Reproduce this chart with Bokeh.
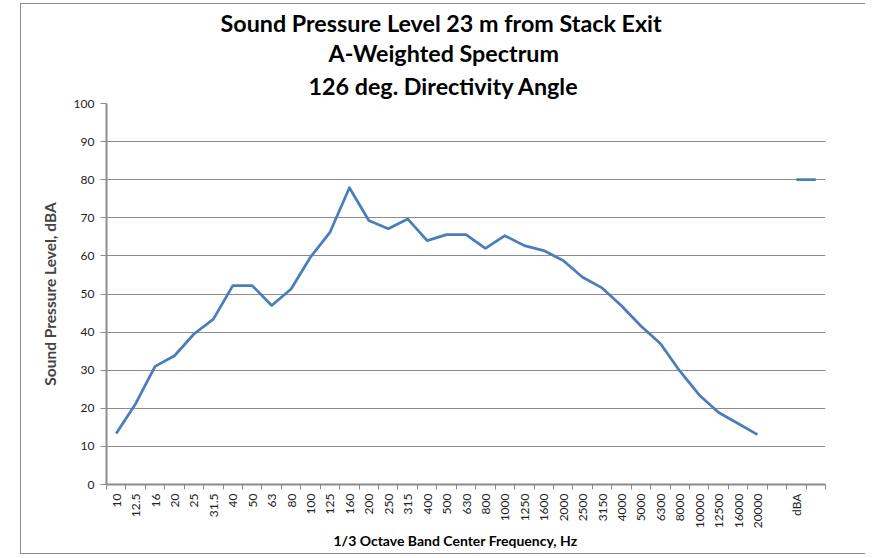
from bokeh.plotting import figure
from bokeh.models import FixedTicker, Title, ColumnDataSource, Range1d
from bokeh.embed import file_html
from bokeh.resources import INLINE
import math

categories = ["10", "12.5", "16", "20", "25", "31.5", "40", "50", "63", "80",
              "100", "125", "160", "200", "250", "315", "400", "500", "630", "800",
              "1000", "1250", "1600", "2000", "2500", "3150", "4000", "5000", "6300", "8000",
              "10000", "12500", "16000", "20000", "", "dBA", " "]
spl = [13.4, 21.2, 31.0, 33.8, 39.5, 43.4, 52.2, 52.2, 47.0, 51.3,
       59.7, 66.2, 77.9, 69.3, 67.1, 69.7, 64.0, 65.6, 65.6, 62.0,
       65.3, 62.7, 61.4, 58.8, 54.4, 51.6, 46.9, 41.6, 37.0, 29.8,
       23.5, 18.9, 16.0, 13.1]
dba_cats = ["dBA", " "]
dba_vals = [80.0, 80.0]
title_lines = ["Sound Pressure Level 23 m from Stack Exit", "A-Weighted Spectrum",
               "126 deg. Directivity Angle"]
x_title = "1/3 Octave Band Center Frequency, Hz"
y_title = "Sound Pressure Level, dBA"

FONT = "Lato"
GRID = "#8c8c8c"

ncat = len(categories)
centers = [i + 0.5 for i in range(ncat)]
pos = {c: i + 0.5 for i, c in enumerate(categories)}

p = figure(frame_width=719, frame_height=381, output_backend="svg", toolbar_location=None,
           x_range=Range1d(0, ncat), y_range=Range1d(0, 100),
           min_border_left=85, min_border_right=40, min_border_top=99, min_border_bottom=69,
           background_fill_color="white", border_fill_color="white",
           styles={"margin-left": "20px", "margin-top": "3px",
                   "border-left": "1px solid #8c8c8c", "border-top": "1px solid #8c8c8c",
                   "border-bottom": "1px solid #8c8c8c", "border-right": "none",
                   "box-sizing": "content-box", "overflow": "hidden"})
p.outline_line_color = None

src = ColumnDataSource(dict(x=[pos[c] for c in categories[:len(spl)]], y=spl))
p.line("x", "y", source=src, line_color="#4a7ebb", line_width=2.75, line_join="round")
src2 = ColumnDataSource(dict(x=[pos[c] for c in dba_cats], y=dba_vals))
p.line("x", "y", source=src2, line_color="#4a7ebb", line_width=2.75)

# x axis
xa = p.xaxis[0]
xa.ticker = FixedTicker(ticks=centers, minor_ticks=list(range(ncat + 1)))
xa.major_label_overrides = {c: categories[i] for i, c in enumerate(centers)}
xa.major_label_orientation = math.pi / 2
xa.major_tick_line_color = None
xa.minor_tick_line_color = GRID
xa.minor_tick_out = 5
xa.minor_tick_in = 0
xa.axis_line_color = GRID
xa.axis_line_width = 2
xa.major_label_text_font = FONT
xa.major_label_text_font_size = "12px"
xa.major_label_text_color = "#222222"
xa.major_label_standoff = 3
xa.axis_label_standoff = 0

# y axis
ya = p.yaxis[0]
ya.ticker = FixedTicker(ticks=list(range(0, 101, 10)))
ya.major_tick_line_color = GRID
ya.major_tick_out = 6
ya.major_tick_in = 0
ya.minor_tick_line_color = None
ya.axis_line_color = GRID
ya.axis_line_width = 2
ya.major_label_text_font = FONT
ya.major_label_text_font_size = "12px"
ya.major_label_text_color = "#222222"
ya.major_label_standoff = 6
ya.axis_label = y_title
ya.axis_label_text_font = FONT
ya.axis_label_text_font_size = "15.5px"
ya.axis_label_text_font_style = "bold"
ya.axis_label_standoff = 12

p.xgrid.grid_line_color = None
p.ygrid.ticker = FixedTicker(ticks=list(range(10, 101, 10)))
p.ygrid.grid_line_color = GRID
p.ygrid.grid_line_width = 1

# titles: stacked above the frame, first added is closest to the frame
offsets = [114, 222, 202]
for i in [2, 1, 0]:
    p.add_layout(Title(text=title_lines[i], align="left", offset=offsets[i],
                       text_font=FONT, text_font_size="23.3px", text_font_style="bold",
                       text_color="black", standoff=7 if i == 2 else 0), "above")

p.add_layout(Title(text=x_title, align="left", offset=227, text_font=FONT,
                   text_font_size="14px", text_font_style="bold", text_color="black",
                   standoff=-3), "below")

open("out.html", "w").write(file_html(p, INLINE))
